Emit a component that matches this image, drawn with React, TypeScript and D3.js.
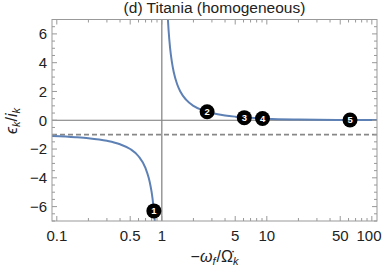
import React from "react";
import * as d3 from "d3";

// curve values (x = -ω_f/Ω̇_k, y = ε_k/i_k)
const leftX = [0.09, 0.15, 0.2, 0.3, 0.4, 0.5, 0.6, 0.7, 0.75, 0.78, 0.8, 0.83, 0.857];
const leftY = [-1.1, -1.18, -1.25, -1.43, -1.67, -2.0, -2.5, -3.33, -4.0, -4.55, -5.0, -5.9, -7.0];
const rightX = [1.143, 1.16, 1.2, 1.25, 1.3, 1.4, 1.5, 1.7, 2, 2.5, 3, 4, 5, 7, 10, 20, 50, 112];
const rightY = [7.0, 6.25, 5.0, 4.0, 3.33, 2.5, 2.0, 1.43, 1.0, 0.67, 0.5, 0.33, 0.25, 0.17, 0.11, 0.053, 0.02, 0.009];

const markerX = [0.84, 2.7, 6.1, 9.1, 62];
const markerY = [-6.3, 0.59, 0.18, 0.12, 0.02];
const markerLabels = ["1", "2", "3", "4", "5"];

const xTicks = [0.1, 0.5, 1, 5, 10, 50, 100];
const xTickLabels = ["0.1", "0.5", "1", "5", "10", "50", "100"];
const yTicks = [-6, -4, -2, 0, 2, 4, 6];
const yTickLabels = ["\u22126", "\u22124", "\u22122", "0", "2", "4", "6"];

const asymptote = -1;

const W = 385;
const H = 273;
const margin = { top: 19.5, right: 8, bottom: 52, left: 52 };
const font = "'Liberation Sans', Arial, sans-serif";
const frameColor = "#999";

export default function App() {
  const x = d3
    .scaleLog()
    .domain([0.09, 112])
    .range([margin.left, W - margin.right]);
  const y = d3
    .scaleLinear()
    .domain([-7, 7])
    .range([H - margin.bottom, margin.top]);

  const [x0, x1] = x.range();
  const [y0, y1] = y.range(); // y0 bottom, y1 top

  const line = d3
    .line<[number, number]>()
    .x((d) => x(d[0]))
    .y((d) => y(d[1]))
    .curve(d3.curveMonotoneX);

  const left = leftX.map((v, i) => [v, leftY[i]] as [number, number]);
  const right = rightX.map((v, i) => [v, rightY[i]] as [number, number]);

  // minor ticks
  const xMinor: number[] = [];
  [0.1, 1, 10].forEach((dec) => {
    for (let k = 1; k <= 9; k++) {
      const v = dec * k;
      if (v >= 0.09 && v <= 112 && !xTicks.includes(+v.toFixed(4))) xMinor.push(v);
    }
  });
  const yMinor = d3.range(-7, 7.01, 0.5).filter((v) => !yTicks.includes(v));

  return (
    <svg
      width={W}
      height={H}
      style={{ position: "absolute", left: 0, top: 0, background: "#fff" }}
    >
      <text x={(x0 + x1) / 2} y={13} textAnchor="middle" fontFamily={font} fontSize={15.5} fill="#222">
        (d) Titania (homogeneous)
      </text>

      <defs>
        <clipPath id="plot">
          <rect x={x0} y={y1} width={x1 - x0} height={y0 - y1} />
        </clipPath>
      </defs>

      {/* axes through the origin */}
      <line x1={x0} x2={x1} y1={y(0)} y2={y(0)} stroke="#777" strokeWidth={1} />
      <line x1={x(1)} x2={x(1)} y1={y1} y2={y0} stroke="#888" strokeWidth={1.3} />
      <line
        x1={x0}
        x2={x1}
        y1={y(asymptote)}
        y2={y(asymptote)}
        stroke="#888"
        strokeWidth={1.8}
        strokeDasharray="5,3"
      />

      <g clipPath="url(#plot)">
        <path d={line(left) || ""} fill="none" stroke="#5E81B5" strokeWidth={2} />
        <path d={line(right) || ""} fill="none" stroke="#5E81B5" strokeWidth={2} />
      </g>

      {/* frame */}
      <rect x={x0} y={y1} width={x1 - x0} height={y0 - y1} fill="none" stroke={frameColor} strokeWidth={1} />

      {xTicks.map((t) => (
        <g key={"xt" + t}>
          <line x1={x(t)} x2={x(t)} y1={y0} y2={y0 - 5} stroke={frameColor} />
          <line x1={x(t)} x2={x(t)} y1={y1} y2={y1 + 5} stroke={frameColor} />
        </g>
      ))}
      {xMinor.map((t) => (
        <g key={"xm" + t}>
          <line x1={x(t)} x2={x(t)} y1={y0} y2={y0 - 3} stroke={frameColor} />
          <line x1={x(t)} x2={x(t)} y1={y1} y2={y1 + 3} stroke={frameColor} />
        </g>
      ))}
      {yTicks.map((t) => (
        <g key={"yt" + t}>
          <line x1={x0} x2={x0 + 5} y1={y(t)} y2={y(t)} stroke={frameColor} />
          <line x1={x1} x2={x1 - 5} y1={y(t)} y2={y(t)} stroke={frameColor} />
        </g>
      ))}
      {yMinor.map((t) => (
        <g key={"ym" + t}>
          <line x1={x0} x2={x0 + 3} y1={y(t)} y2={y(t)} stroke={frameColor} />
          <line x1={x1} x2={x1 - 3} y1={y(t)} y2={y(t)} stroke={frameColor} />
        </g>
      ))}

      {xTicks.map((t, i) => (
        <text
          key={"xl" + t}
          x={Math.min(x(t), x1 - 8)}
          y={241}
          textAnchor="middle"
          fontFamily={font}
          fontSize={15}
          fill="#222"
        >
          {xTickLabels[i]}
        </text>
      ))}
      {yTicks.map((t, i) => (
        <text
          key={"yl" + t}
          x={x0 - 5}
          y={y(t)}
          dy="0.36em"
          textAnchor="end"
          fontFamily={font}
          fontSize={15}
          fill="#222"
        >
          {yTickLabels[i]}
        </text>
      ))}

      {/* markers */}
      {markerX.map((v, i) => (
        <g key={"m" + i} transform={`translate(${x(v)},${y(markerY[i])})`}>
          <circle r={7.5} fill="#000" />
          <text
            y={3.4}
            textAnchor="middle"
            fontFamily={font}
            fontSize={9.5}
            fontWeight="bold"
            fill="#fff"
          >
            {markerLabels[i]}
          </text>
        </g>
      ))}

      {/* axis titles */}
      <text x={(x0 + x1) / 2} y={262} textAnchor="middle" fontFamily={font} fontSize={16} fill="#222">
        {"\u2212"}
        <tspan fontStyle="italic">{"\u03C9"}</tspan>
        <tspan fontStyle="italic" fontSize={11} dy={3}>f</tspan>
        <tspan dy={-3} dx={1}>/</tspan>
        <tspan>{"\u03A9\u0307"}</tspan>
        <tspan fontStyle="italic" fontSize={11} dy={3}>k</tspan>
      </text>
      <text
        transform={`translate(17,121) rotate(-90)`}
        textAnchor="middle"
        fontFamily={font}
        fontSize={16}
        fill="#222"
      >
        <tspan fontStyle="italic">{"\u03F5"}</tspan>
        <tspan fontStyle="italic" fontSize={11} dy={3}>k</tspan>
        <tspan dy={-3}>/</tspan>
        <tspan fontStyle="italic">i</tspan>
        <tspan fontStyle="italic" fontSize={11} dy={3}>k</tspan>
      </text>
    </svg>
  );
}
